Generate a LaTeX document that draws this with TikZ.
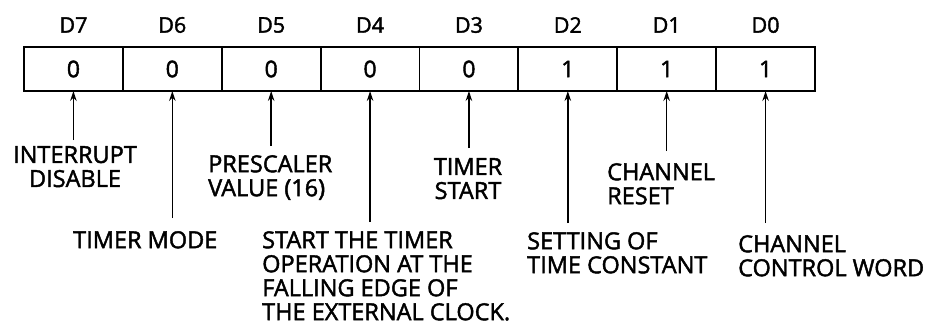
\documentclass[tikz,border=0pt]{standalone}
\usepackage{fontspec}
\setmainfont{Open Sans}[FakeBold=1.8]
\usetikzlibrary{arrows.meta}
\begin{document}
\begin{tikzpicture}[x=1pt,y=-1pt,
  cell/.style={draw,line width=1.8pt,minimum width=98.875pt,minimum height=44pt,inner sep=0pt,outer sep=0pt,font=\fontsize{23}{23}\selectfont},
  bitlbl/.style={inner sep=0pt,font=\fontsize{21.5}{21.5}\selectfont},
  desc/.style={inner sep=0pt,font=\fontsize{23.5}{24}\selectfont},
  arr/.style={line width=1.4pt,-{Stealth[length=10pt,width=6.5pt]}}]
\useasboundingbox (0,0) rectangle (936,326);
% cells
\foreach \i/\v [count=\k from 0] in {7/0,6/0,5/0,4/0,3/0,2/1,1/1,0/1}{
  \node[cell] (c\i) at ({24+98.875*(\k+0.5)},69) {\v};
  \node[bitlbl] (d\i) at ({24+98.875*(\k+0.5)},25) {D\i};
}
% descriptions
\node[desc,anchor=north,align=center] (t7) at (75,146) {INTERRUPT\\DISABLE};
\node[desc,anchor=north west,align=left] (t6) at (73,231) {TIMER MODE};
\node[desc,anchor=north west,align=left] (t5) at (208,155) {PRESCALER\\VALUE (16)};
\node[desc,anchor=north west,align=left] (t4) at (262,231) {START THE TIMER\\OPERATION AT THE\\FALLING EDGE OF\\THE EXTERNAL CLOCK.};
\node[desc,anchor=north,align=center] (t3) at (468,158) {TIMER\\START};
\node[desc,anchor=north west,align=left] (t2) at (527,232) {SETTING OF\\TIME CONSTANT};
\node[desc,anchor=north west,align=left] (t1) at (607,163) {CHANNEL\\RESET};
\node[desc,anchor=north west,align=left] (t0) at (738,235) {CHANNEL\\CONTROL WORD};
% arrow feet
\coordinate (f7) at (c7.south |- 0,140);
\coordinate (f6) at (c6.south |- 0,218);
\coordinate (f5) at (c5.south |- 0,146);
\coordinate (f4) at (c4.south |- 0,222);
\coordinate (f3) at (c3.south |- 0,148);
\coordinate (f2) at (c2.south |- 0,223);
\coordinate (f1) at (c1.south |- 0,151);
\coordinate (f0) at (c0.south |- 0,223);
\foreach \i in {7,6,5,4,3,2,1,0}{
  \draw[arr] (f\i) -- (c\i.south);
}
\end{tikzpicture}
\end{document}
